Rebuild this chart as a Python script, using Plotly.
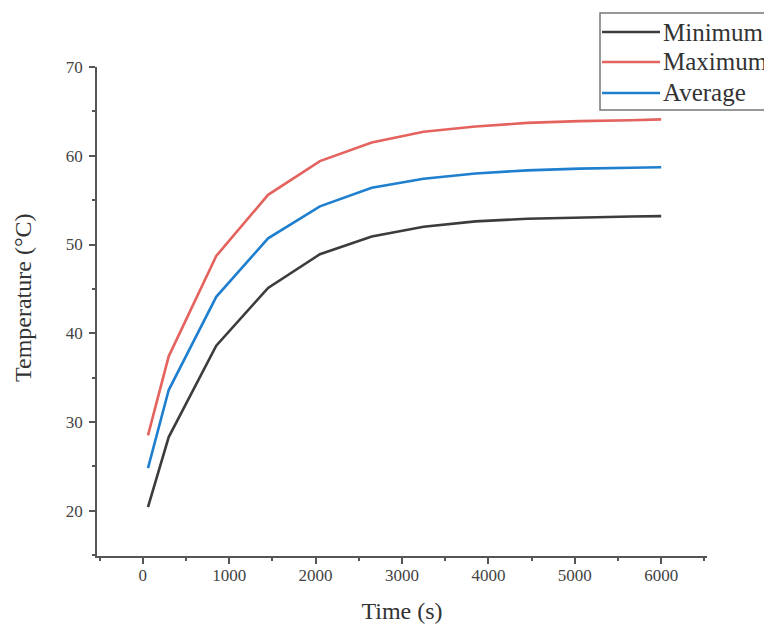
import plotly.graph_objects as go

time_s = [60, 300, 850, 1450, 2050, 2650, 3250, 3850, 4450, 5050, 5650, 6000]
t_min = [20.4, 28.3, 38.6, 45.1, 48.9, 50.9, 52.0, 52.6, 52.9, 53.05, 53.15, 53.2]
t_max = [28.5, 37.4, 48.7, 55.6, 59.4, 61.5, 62.7, 63.3, 63.7, 63.9, 64.0, 64.1]
t_avg = [24.8, 33.6, 44.1, 50.7, 54.3, 56.4, 57.4, 58.0, 58.35, 58.55, 58.65, 58.7]

series_names = ["Minimum", "Maximum", "Average"]
series_colors = ["#3c3c3c", "#e4635e", "#1f7fcf"]
series_vals = [t_min, t_max, t_avg]

x_ticks = [0, 1000, 2000, 3000, 4000, 5000, 6000]
y_ticks = [20, 30, 40, 50, 60, 70]

FONT = "Liberation Serif, Times New Roman, serif"
AX = "#555555"

fig = go.Figure()
for name, col, vals in zip(series_names, series_colors, series_vals):
    fig.add_trace(go.Scatter(x=time_s, y=vals, mode="lines", name=name,
                             line=dict(color=col, width=2.6), showlegend=False))

# page body has an 8px margin; layout is expressed in figure pixels
W, H = 764, 626
L, R, T, B = 89, 65, 59, 78
pw, ph = W - L - R, H - T - B
def px(xp):
    return (xp - L) / pw
def py(yp):
    return (H - B - yp) / ph

# manual legend (box, sample lines, labels)
fig.add_shape(type="rect", xref="paper", yref="paper",
              x0=px(592), x1=px(780), y0=py(102), y1=py(5),
              line=dict(color="#777777", width=1.5), fillcolor="rgba(0,0,0,0)")
leg_y = [24, 54, 85]
for name, col, yy in zip(series_names, series_colors, leg_y):
    fig.add_shape(type="line", xref="paper", yref="paper",
                  x0=px(594), x1=px(652), y0=py(yy), y1=py(yy),
                  line=dict(color=col, width=2.6))
    fig.add_annotation(xref="paper", yref="paper", x=px(653), y=py(yy),
                       xanchor="left", yanchor="middle", text=name, showarrow=False,
                       font=dict(family=FONT, size=25, color="#333333"))

# y-axis title
fig.add_annotation(xref="paper", yref="paper", x=px(15), y=py(290),
                   xanchor="center", yanchor="middle", textangle=-90,
                   text="Temperature (°C)", showarrow=False,
                   font=dict(family=FONT, size=24, color="#333333"))

fig.update_layout(
    width=W, height=H,
    margin=dict(l=L, r=R, t=T, b=B, autoexpand=False),
    paper_bgcolor="white", plot_bgcolor="white",
    font=dict(family=FONT, color="#444444"),
)
fig.update_xaxes(
    range=[-530, 6530], tickvals=x_ticks, ticktext=[str(v) for v in x_ticks],
    showgrid=False, zeroline=False, showline=True, linecolor=AX, linewidth=1.6,
    ticks="outside", ticklen=6, tickwidth=1.5, tickcolor=AX, automargin=False,
    ticklabelstandoff=-3,
    minor=dict(dtick=500, tick0=-500, ticks="outside", ticklen=3, tickwidth=1.5, tickcolor=AX),
    tickfont=dict(family=FONT, size=17, color="#444444"),
    title=dict(text="Time (s)", font=dict(family=FONT, size=24, color="#333333"), standoff=18),
)
fig.update_yaxes(
    range=[14.9, 70], tickvals=y_ticks, ticktext=[str(v) for v in y_ticks],
    showgrid=False, zeroline=False, showline=True, linecolor=AX, linewidth=1.6,
    ticks="outside", ticklen=6, tickwidth=1.5, tickcolor=AX, automargin=False,
    ticklabelstandoff=3,
    minor=dict(dtick=5, tick0=15, ticks="outside", ticklen=3, tickwidth=1.5, tickcolor=AX),
    tickfont=dict(family=FONT, size=17, color="#444444"),
)

fig.write_html("out.html")
